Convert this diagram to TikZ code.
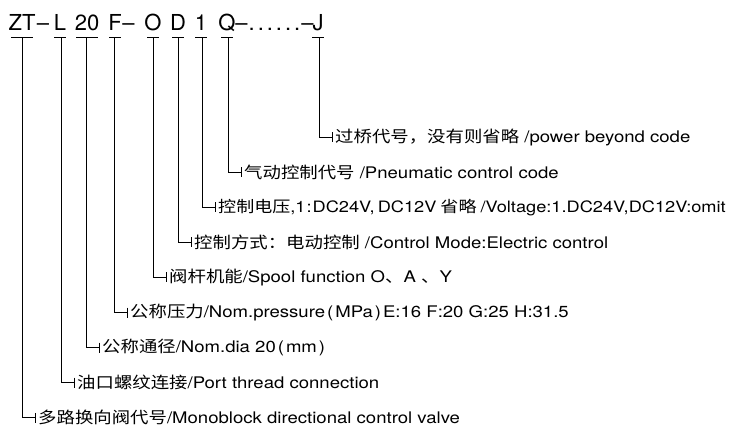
\documentclass[tikz,border=0pt]{standalone}
\usepackage{fontspec}
\setmainfont{TeX Gyre Heros}
\newfontfamily\rowfont[FakeStretch=1.16]{TeX Gyre Heros}
\newfontfamily\rowcjk[FakeStretch=1.15]{Noto Sans CJK SC}
\newcommand{\zh}[1]{{\rowcjk #1}}
\usetikzlibrary{calc}

\begin{document}
\begin{tikzpicture}[
      x=1pt, y=-1pt,
      code/.style={anchor=base, inner sep=0pt, font=\fontsize{22}{24}\selectfont},
      desc/.style={anchor=west, inner xsep=3pt, inner ysep=0pt,
                   font=\rowfont\fontsize{16}{18}\selectfont},
      lnk/.style={line width=0.9pt},
    ]
    \useasboundingbox (0,0) rectangle (741,426);
    % model code
    \node[code] (zt) at (22,30) {ZT};
    \node[code] (m1) at (43,30) {–};
    \node[code] (l) at (60,30) {L};
    \node[code] (dn) at (87,30) {20};
    \node[code] (f) at (115,30) {F};
    \node[code] (m2) at (128.5,30) {–};
    \node[code] (o) at (153,30) {O};
    \node[code] (d) at (178,30) {D};
    \node[code] (v) at (201,30) {1};
    \node[code] (q) at (227,30) {Q};
    \node[code] (m3) at (274.5,30) {–\hspace{1pt}.\hspace{3pt}.\hspace{3pt}.\hspace{3pt}.\hspace{3pt}.\hspace{3pt}.\hspace{1pt}–};
    \node[code] (j) at (318,30) {J};
    % meanings
    \node[desc] (tj) at (332,137) {\zh{过桥代号，没有则省略} /power beyond code};
    \node[desc] (tq) at (241,172.1) {\zh{气动控制代号} /Pneumatic control code};
    \node[desc, font=\rowfont\fontsize{15.7}{18}\selectfont] (tv) at (215,207.2)
      {\zh{控制电压},1\hspace{1pt}:\hspace{1pt}DC24V,\hspace{3pt}DC12V\hspace{4pt}\zh{省略}\hspace{4pt}/Voltage:1.DC24V,DC12V:omit};
    \node[desc] (td) at (191,242.3) {\zh{控制方式：电动控制} /Control Mode:Electric control};
    \node[desc] (to) at (166,277.4) {\zh{阀杆机能}/Spool function O\zh{、}A \zh{、}Y};
    \node[desc] (tf) at (127,312.5) {\zh{公称压力}/Nom.pressure\hspace{2pt}(\hspace{2pt}MPa\hspace{2pt})\hspace{2pt}E:16 F:20 G:25 H:31.5};
    \node[desc] (tdn) at (99,347.6) {\zh{公称通径}/Nom.dia 20\hspace{2pt}(\hspace{2pt}mm\hspace{2pt})};
    \node[desc] (tl) at (74,382.7) {\zh{油口螺纹连接}/Port thread connection};
    \node[desc] (tzt) at (35,417.8) {\zh{多路换向阀代号}/Monoblock directional control valve};
    % bars under the code
    \draw[lnk] ($(zt.base)+(-11,7)$) -- ++(22,0);
    \draw[lnk] ($(l.base)+(-6,7)$) -- ++(12,0);
    \draw[lnk] ($(dn.base)+(-11,7)$) -- ++(22,0);
    \draw[lnk] ($(f.base)+(-6,7)$) -- ++(12,0);
    \draw[lnk] ($(o.base)+(-6,7)$) -- ++(12,0);
    \draw[lnk] ($(d.base)+(-6,7)$) -- ++(12,0);
    \draw[lnk] ($(v.base)+(-6,7)$) -- ++(12,0);
    \draw[lnk] ($(q.base)+(-6,7)$) -- ++(12,0);
    \draw[lnk] ($(j.base)+(-6,7)$) -- ++(12,0);
    % leaders
    \draw[lnk] ($(j.base)+(1,7)$) |- (tj.west) ++(0,-5) -- ++(0,10);
    \draw[lnk] ($(q.base)+(1,7)$) |- (tq.west) ++(0,-5) -- ++(0,10);
    \draw[lnk] ($(v.base)+(1,7)$) |- (tv.west) ++(0,-5) -- ++(0,10);
    \draw[lnk] ($(d.base)+(0,7)$) |- (td.west) ++(0,-5) -- ++(0,10);
    \draw[lnk] ($(o.base)+(0,7)$) |- (to.west) ++(0,-5) -- ++(0,10);
    \draw[lnk] ($(f.base)+(-1,7)$) |- (tf.west) ++(0,-5) -- ++(0,10);
    \draw[lnk] ($(dn.base)+(-1,7)$) |- (tdn.west) ++(0,-5) -- ++(0,10);
    \draw[lnk] ($(l.base)+(1,7)$) |- (tl.west) ++(0,-5) -- ++(0,10);
    \draw[lnk] ($(zt.base)+(0,7)$) |- (tzt.west) ++(0,-5) -- ++(0,10);
  \end{tikzpicture}
\end{document}
